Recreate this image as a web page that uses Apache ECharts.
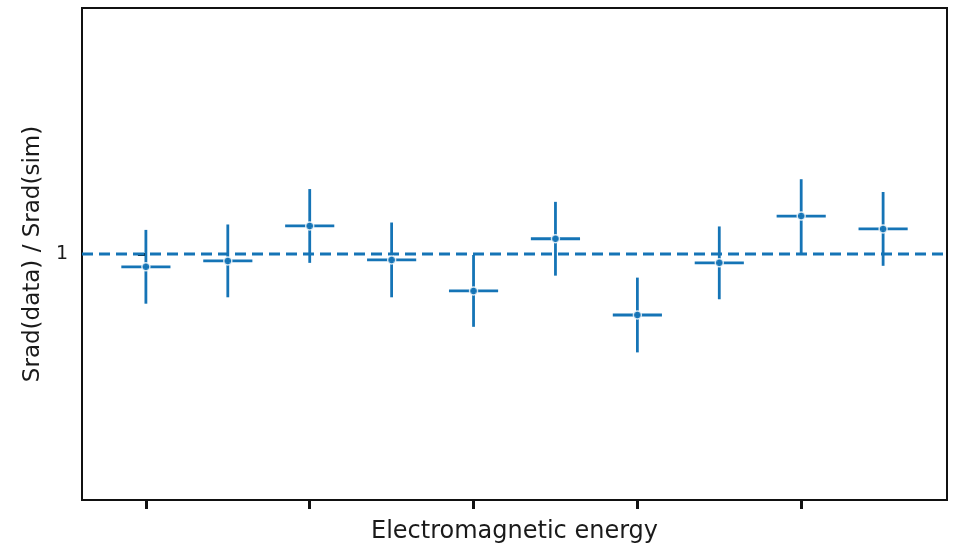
<!DOCTYPE html>
<html>
<head>
<meta charset="utf-8">
<script src="https://cdn.jsdelivr.net/npm/echarts@6/dist/echarts.min.js"></script>
<style>
  html, body { margin: 0; padding: 0; background: #fff; }
  #chart { width: 957px; height: 549px; }
</style>
</head>
<body>
<div id="chart"></div>
<script>
// ratio per bin
const binX = [0, 1, 2, 3, 4, 5, 6, 7, 8, 9];
const ratio = [0.974, 0.986, 1.057, 0.988, 0.925, 1.031, 0.876, 0.982, 1.077, 1.051];
const yErr = [0.075, 0.074, 0.075, 0.076, 0.073, 0.075, 0.076, 0.074, 0.075, 0.075];
const xErr = 0.3;
const xTicks = [0, 2, 4, 6, 8];
const yTicks = [1];

const blue = "#1574b6";
const font = "DejaVu Sans";

const points = binX.map((x, i) => [x, ratio[i], yErr[i]]);

const option = {
  backgroundColor: "#fff",
  animation: false,
  grid: {
    left: 82,
    right: 10,
    top: 8,
    bottom: 48,
    show: true,
    borderColor: "#111",
    borderWidth: 2,
    backgroundColor: "#fff"
  },
  xAxis: {
    type: "value",
    min: -0.78,
    max: 9.78,
    name: "Electromagnetic energy",
    nameLocation: "middle",
    nameGap: 20,
    nameTextStyle: { fontFamily: font, fontSize: 24, color: "#1a1a1a" },
    axisLine: { show: false },
    splitLine: { show: false },
    axisTick: {
      show: true,
      customValues: xTicks,
      length: 9,
      inside: false,
      lineStyle: { color: "#111", width: 3 }
    },
    axisLabel: { show: false }
  },
  yAxis: {
    type: "value",
    min: 0.5,
    max: 1.5,
    name: "Srad(data) / Srad(sim)",
    nameLocation: "middle",
    nameGap: 30,
    nameTextStyle: { fontFamily: font, fontSize: 23, color: "#1a1a1a" },
    axisLine: { show: false },
    splitLine: { show: false },
    axisTick: {
      show: true,
      customValues: yTicks,
      length: 8,
      lineStyle: { color: "#111", width: 3 }
    },
    axisLabel: {
      show: true,
      customValues: yTicks,
      margin: 14,
      fontFamily: font,
      fontSize: 19,
      color: "#1a1a1a"
    }
  },
  series: [
    {
      type: "line",
      data: [[-0.78, 1], [9.78, 1]],
      symbol: "none",
      lineStyle: { color: blue, width: 2.8, type: [11, 6] },
      z: 1
    },
    {
      type: "custom",
      data: points,
      renderItem: function (params, api) {
        const x = api.value(0);
        const y = api.value(1);
        const e = api.value(2);
        const l = api.coord([x - xErr, y]);
        const r = api.coord([x + xErr, y]);
        const t = api.coord([x, y + e]);
        const b = api.coord([x, y - e]);
        const style = { stroke: blue, lineWidth: 2.8 };
        return {
          type: "group",
          children: [
            { type: "line", shape: { x1: l[0], y1: l[1], x2: r[0], y2: r[1] }, style: style },
            { type: "line", shape: { x1: t[0], y1: t[1], x2: b[0], y2: b[1] }, style: style }
          ]
        };
      },
      z: 2
    },
    {
      type: "scatter",
      data: points.map(p => [p[0], p[1]]),
      symbol: "circle",
      symbolSize: 8,
      itemStyle: { color: blue, borderColor: "#fff", borderWidth: 1.5 },
      z: 3
    }
  ]
};

const chart = echarts.init(document.getElementById("chart"));
chart.setOption(option);
</script>
</body>
</html>
